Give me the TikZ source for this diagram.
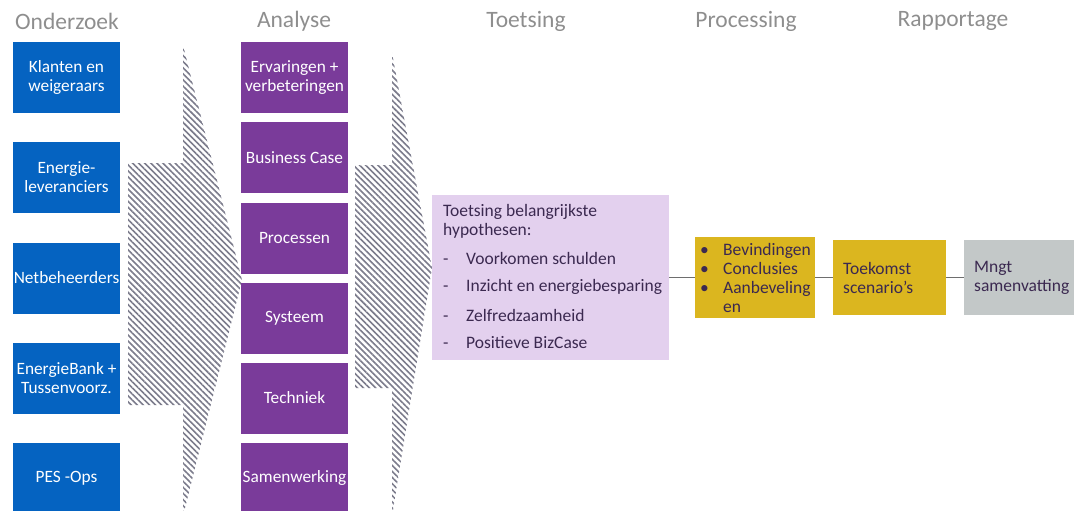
\documentclass[tikz,border=0pt]{standalone}
\usepackage{fontspec}
\setmainfont{Carlito}
\usetikzlibrary{patterns.meta}
\definecolor{cblue}{HTML}{0563C1}
\definecolor{cpurple}{HTML}{7A3B9A}
\definecolor{clav}{HTML}{E3D0EE}
\definecolor{cyel}{HTML}{DBB61F}
\definecolor{cgrey}{HTML}{C3C8C8}
\definecolor{ctxt}{HTML}{3B2950}
\definecolor{chead}{HTML}{8E8E8E}
\definecolor{chatch}{HTML}{7C7C8C}
\definecolor{cline}{HTML}{6E6E6E}
\tikzset{
  box/.style={draw=none, minimum width=107pt, minimum height=71pt, inner sep=0pt, align=center, text=white, font=\fontsize{17.3}{19}\selectfont},
  bluebox/.style={box, fill=cblue},
  purplebox/.style={box, fill=cpurple},
  head/.style={text=chead, font=\fontsize{23.5}{26}\selectfont, inner sep=0pt},
  ltxt/.style={anchor=west, text=ctxt, inner sep=0pt, font=\fontsize{17.5}{19}\selectfont, align=left},
  hatch/.style={pattern={Lines[angle=-45,distance=4.3pt,line width=1.6pt]}, pattern color=chatch},
  conn/.style={draw=cline, line width=1.3pt}
}
\begin{document}
\begin{tikzpicture}[x=1pt,y=-1pt]
\useasboundingbox (0,0) rectangle (1074,511);
\clip (0,0) rectangle (1074,511);
% headers
\node[head] (h1) at (67,21) {Onderzoek};
\node[head] (h2) at (294,21) {Analyse};
\node[head] (h3) at (526,21) {Toetsing};
\node[head] (h4) at (746,21) {Processing};
\node[head] (h5) at (953,21) {Rapportage};
% hatched arrows
\fill[hatch] (183,45) -- (242,280) -- (183,516) -- (183,405) -- (128,405) -- (128,163) -- (183,163) -- cycle;
\fill[hatch] (392,53) -- (432,268) -- (392,516) -- (392,388) -- (355,388) -- (355,165) -- (392,165) -- cycle;
% blue column
\node[bluebox] (b1) at (66.5,77.5) {Klanten en\\weigeraars};
\node[bluebox] (b2) at (66.5,177.5) {Energie-\\leveranciers};
\node[bluebox] (b3) at (66.5,278) {Netbeheerders};
\node[bluebox] (b4) at (66.5,378) {EnergieBank +\\Tussenvoorz.};
\node[bluebox] (b5) at (66.5,478) {PES -Ops};
% purple column
\node[purplebox] (p1) at (294.5,77.5) {Ervaringen +\\verbeteringen};
\node[purplebox] (p2) at (294.5,157.5) {Business Case};
\node[purplebox] (p3) at (294.5,238) {Processen};
\node[purplebox] (p4) at (294.5,318) {Systeem};
\node[purplebox] (p5) at (294.5,398) {Techniek};
\node[purplebox] (p6) at (294.5,478) {Samenwerking};
% toetsing box
\node[fill=clav, minimum width=237pt, minimum height=165pt, inner sep=0pt] (toets) at (550.5,277.5) {};
\node[ltxt] (t0) at (443,221.5) {Toetsing belangrijkste\\hypothesen:};
\node[ltxt] (t1) at (443,258) {\makebox[23pt][l]{-}Voorkomen schulden};
\node[ltxt] (t2) at (443,287) {\makebox[23pt][l]{-}Inzicht en energiebesparing};
\node[ltxt] (t3) at (443,315) {\makebox[23pt][l]{-}Zelfredzaamheid};
\node[ltxt] (t4) at (443,343) {\makebox[23pt][l]{-}Positieve BizCase};
% processing boxes
\node[fill=cyel, minimum width=120pt, minimum height=81pt, inner sep=0pt] (y1) at (755,277.5) {};
\node[ltxt] (yt) at (700,277.5) {\makebox[23pt][l]{\textbullet}Bevindingen\\\makebox[23pt][l]{\textbullet}Conclusies\\\makebox[23pt][l]{\textbullet}Aanbeveling\\\hspace*{23pt}en};
\node[fill=cyel, minimum width=113pt, minimum height=75pt, inner sep=0pt] (y2) at (889.5,277.5) {};
\node[ltxt] (y2t) at (843,277.5) {Toekomst\\scenario’s};
\node[fill=cgrey, minimum width=112pt, minimum height=75pt, inner sep=0pt] (g1) at (1020,277.5) {};
\node[ltxt] (g1t) at (974,277.5) {Mngt\\samenvatting};
% connectors
\draw[conn] (toets) -- (y1);
\draw[conn] (y1) -- (y2);
\draw[conn] (y2) -- (g1);
\end{tikzpicture}
\end{document}
